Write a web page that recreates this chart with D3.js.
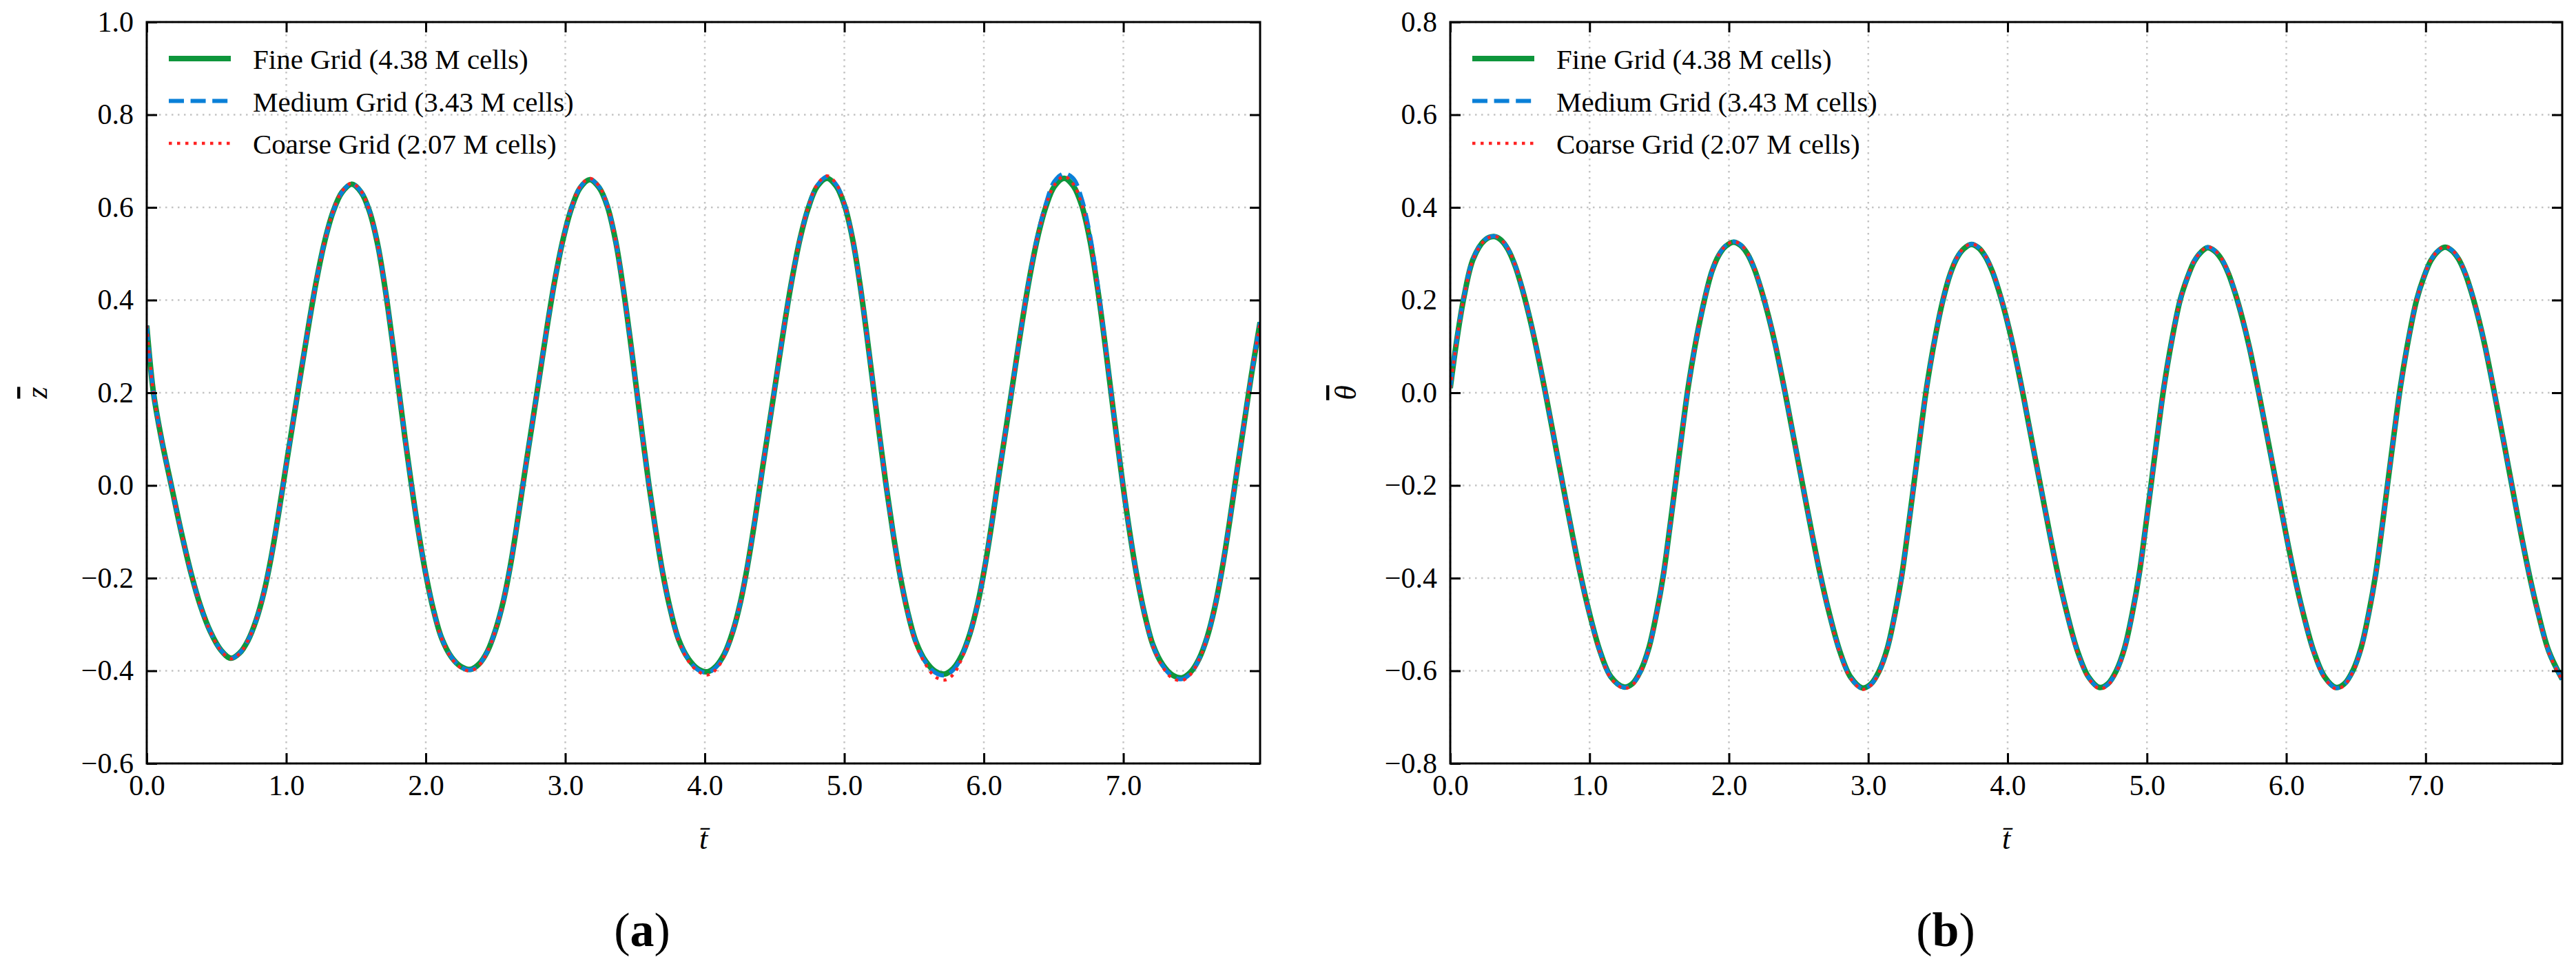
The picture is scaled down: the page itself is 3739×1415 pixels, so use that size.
<!DOCTYPE html>
<html>
<head>
<meta charset="utf-8">
<script src="https://cdn.jsdelivr.net/npm/d3@7"></script>
<style>
  body { margin: 0; background: #fff; }
  text { font-family: "Liberation Serif", "Times New Roman", serif; }
</style>
</head>
<body>
<div id="chart"></div>
<script>
// legend entries
const seriesNames = ["Fine Grid (4.38 M cells)", "Medium Grid (3.43 M cells)", "Coarse Grid (2.07 M cells)"]

const xTicks = [0, 1, 2, 3, 4, 5, 6, 7]
const zTicks = [-0.6, -0.4, -0.2, 0, 0.2, 0.4, 0.6, 0.8, 1.0]
const thetaTicks = [-0.8, -0.6, -0.4, -0.2, 0, 0.2, 0.4, 0.6, 0.8]

// (a) heave z-bar against t-bar
const tZ = [0, 0.025, 0.05, 0.107, 0.176, 0.247, 0.318, 0.385, 0.455, 0.533,
  0.603, 0.665, 0.725, 0.785, 0.842, 0.895, 0.948, 1.000, 1.053, 1.106, 1.160, 1.215, 1.274, 1.335, 1.398, 1.468,
  1.536, 1.596, 1.656, 1.711, 1.760, 1.806, 1.852, 1.898, 1.946, 1.998, 2.053, 2.113, 2.183, 2.253, 2.322,
  2.383, 2.442, 2.501, 2.558, 2.610, 2.662, 2.713, 2.766, 2.818, 2.871, 2.925, 2.984, 3.044, 3.106, 3.175,
  3.242, 3.302, 3.361, 3.415, 3.464, 3.509, 3.555, 3.600, 3.648, 3.699, 3.754, 3.813, 3.882, 3.951, 4.020,
  4.081, 4.141, 4.200, 4.256, 4.308, 4.361, 4.412, 4.465, 4.517, 4.570, 4.625, 4.683, 4.743, 4.805, 4.875,
  4.942, 5.002, 5.061, 5.115, 5.164, 5.209, 5.255, 5.300, 5.348, 5.399, 5.454, 5.513, 5.582, 5.651, 5.720,
  5.781, 5.841, 5.900, 5.956, 6.008, 6.061, 6.112, 6.165, 6.217, 6.270, 6.325, 6.383, 6.443, 6.505, 6.575,
  6.642, 6.702, 6.761, 6.815, 6.864, 6.909, 6.955, 7.000, 7.048, 7.099, 7.154, 7.213, 7.282, 7.351, 7.420,
  7.481, 7.541, 7.600, 7.656, 7.708, 7.761, 7.812, 7.865, 7.917, 7.980]

const zFine = [0.345, 0.262, 0.196, 0.098, 0.000, -0.100, -0.190, -0.260, -0.315, -0.356,
  -0.373, -0.362, -0.335, -0.290, -0.228, -0.150, -0.055, 0.045, 0.145, 0.245, 0.345, 0.440, 0.525, 0.590, 0.632, 0.650,
  0.633, 0.592, 0.519, 0.420, 0.313, 0.207, 0.100, 0.000, -0.097, -0.188, -0.266, -0.329, -0.370, -0.391, -0.397,
  -0.385, -0.358, -0.311, -0.247, -0.167, -0.068, 0.035, 0.139, 0.241, 0.345, 0.443, 0.531, 0.598, 0.642, 0.660,
  0.643, 0.602, 0.527, 0.426, 0.318, 0.211, 0.102, 0.000, -0.097, -0.190, -0.269, -0.333, -0.374, -0.396, -0.402,
  -0.390, -0.363, -0.316, -0.251, -0.170, -0.071, 0.034, 0.138, 0.241, 0.346, 0.445, 0.533, 0.600, 0.645, 0.663,
  0.646, 0.604, 0.529, 0.428, 0.318, 0.210, 0.101, -0.001, -0.100, -0.193, -0.273, -0.337, -0.379, -0.401, -0.407,
  -0.395, -0.367, -0.320, -0.255, -0.174, -0.074, 0.031, 0.135, 0.239, 0.344, 0.444, 0.532, 0.600, 0.645, 0.663,
  0.646, 0.604, 0.528, 0.426, 0.316, 0.207, 0.097, -0.006, -0.106, -0.199, -0.280, -0.345, -0.387, -0.409, -0.415,
  -0.403, -0.375, -0.328, -0.262, -0.180, -0.079, 0.027, 0.133, 0.237, 0.352]

const zMedium = [0.345, 0.262, 0.196, 0.098, 0.000, -0.100, -0.190, -0.260, -0.315, -0.356,
  -0.373, -0.362, -0.335, -0.290, -0.228, -0.150, -0.055, 0.045, 0.145, 0.245, 0.345, 0.440, 0.525, 0.590, 0.632, 0.651,
  0.634, 0.593, 0.519, 0.420, 0.313, 0.207, 0.100, 0.000, -0.097, -0.188, -0.266, -0.329, -0.370, -0.392, -0.398,
  -0.386, -0.358, -0.311, -0.247, -0.167, -0.068, 0.035, 0.139, 0.241, 0.345, 0.443, 0.531, 0.599, 0.643, 0.661,
  0.644, 0.603, 0.527, 0.426, 0.318, 0.211, 0.102, 0.000, -0.097, -0.190, -0.269, -0.333, -0.375, -0.398, -0.404,
  -0.392, -0.364, -0.316, -0.251, -0.170, -0.071, 0.034, 0.138, 0.241, 0.346, 0.445, 0.533, 0.601, 0.647, 0.666,
  0.649, 0.605, 0.529, 0.428, 0.318, 0.210, 0.101, -0.001, -0.100, -0.193, -0.273, -0.338, -0.381, -0.404, -0.410,
  -0.398, -0.369, -0.320, -0.255, -0.174, -0.074, 0.031, 0.135, 0.239, 0.344, 0.446, 0.536, 0.606, 0.656, 0.673,
  0.662, 0.618, 0.540, 0.434, 0.320, 0.208, 0.097, -0.006, -0.106, -0.199, -0.280, -0.346, -0.389, -0.412, -0.418,
  -0.406, -0.376, -0.328, -0.262, -0.180, -0.079, 0.027, 0.133, 0.237, 0.352]

const zCoarse = [0.345, 0.262, 0.196, 0.098, 0.000, -0.100, -0.190, -0.260, -0.315, -0.357,
  -0.374, -0.363, -0.335, -0.290, -0.228, -0.150, -0.055, 0.045, 0.145, 0.245, 0.345, 0.440, 0.525, 0.591, 0.634, 0.652,
  0.635, 0.593, 0.519, 0.420, 0.313, 0.207, 0.100, 0.000, -0.097, -0.188, -0.266, -0.330, -0.372, -0.394, -0.400,
  -0.388, -0.359, -0.311, -0.247, -0.167, -0.068, 0.035, 0.139, 0.241, 0.345, 0.443, 0.532, 0.600, 0.645, 0.663,
  0.646, 0.604, 0.528, 0.426, 0.318, 0.211, 0.102, 0.000, -0.097, -0.190, -0.270, -0.336, -0.379, -0.401, -0.409,
  -0.397, -0.367, -0.317, -0.251, -0.170, -0.071, 0.034, 0.138, 0.241, 0.346, 0.445, 0.534, 0.602, 0.649, 0.668,
  0.651, 0.606, 0.530, 0.428, 0.318, 0.210, 0.101, -0.001, -0.101, -0.195, -0.277, -0.343, -0.386, -0.413, -0.420,
  -0.408, -0.374, -0.323, -0.256, -0.174, -0.074, 0.031, 0.135, 0.239, 0.344, 0.445, 0.533, 0.602, 0.648, 0.667,
  0.650, 0.606, 0.529, 0.426, 0.316, 0.207, 0.097, -0.006, -0.107, -0.200, -0.282, -0.348, -0.392, -0.416, -0.421,
  -0.408, -0.377, -0.329, -0.262, -0.180, -0.079, 0.027, 0.133, 0.237, 0.351]

// (b) pitch theta-bar against t-bar
const tTheta = [0, 0.05, 0.10, 0.165, 0.247, 0.313,
  0.363, 0.413, 0.463, 0.513, 0.563, 0.613, 0.688, 0.753, 0.815, 0.877, 0.935, 0.995, 1.075, 1.153, 1.246,
  1.306, 1.366, 1.426, 1.481, 1.531, 1.576, 1.621, 1.666, 1.709, 1.766, 1.824, 1.878, 1.926, 1.976, 2.034,
  2.084, 2.134, 2.184, 2.234, 2.284, 2.334, 2.409, 2.474, 2.536, 2.598, 2.656, 2.716, 2.796, 2.874, 2.957,
  3.017, 3.077, 3.137, 3.192, 3.242, 3.287, 3.332, 3.377, 3.420, 3.477, 3.535, 3.589, 3.637, 3.687, 3.740,
  3.790, 3.840, 3.890, 3.940, 3.990, 4.040, 4.115, 4.180, 4.242, 4.304, 4.362, 4.422, 4.502, 4.580, 4.660,
  4.720, 4.780, 4.840, 4.895, 4.945, 4.990, 5.035, 5.080, 5.123, 5.180, 5.238, 5.292, 5.340, 5.390, 5.435,
  5.485, 5.535, 5.585, 5.635, 5.685, 5.735, 5.810, 5.875, 5.937, 5.999, 6.057, 6.117, 6.197, 6.275, 6.357,
  6.417, 6.477, 6.537, 6.592, 6.642, 6.687, 6.732, 6.777, 6.820, 6.877, 6.935, 6.989, 7.037, 7.087, 7.139,
  7.187, 7.235, 7.283, 7.331, 7.379, 7.427, 7.500, 7.564, 7.625, 7.686, 7.744, 7.804, 7.884, 7.980]

const thetaFine = [0.010, 0.120, 0.209, 0.289, 0.329, 0.337,
  0.330, 0.310, 0.276, 0.228, 0.170, 0.104, -0.008, -0.111, -0.210, -0.307, -0.393, -0.471, -0.558, -0.613, -0.635,
  -0.628, -0.600, -0.550, -0.475, -0.390, -0.290, -0.185, -0.080, 0.015, 0.116, 0.200, 0.262, 0.296, 0.316, 0.325,
  0.318, 0.299, 0.266, 0.220, 0.165, 0.102, -0.009, -0.112, -0.210, -0.307, -0.393, -0.471, -0.558, -0.614, -0.637,
  -0.629, -0.601, -0.551, -0.476, -0.391, -0.291, -0.186, -0.081, 0.014, 0.115, 0.199, 0.257, 0.291, 0.311, 0.320,
  0.313, 0.294, 0.262, 0.217, 0.163, 0.100, -0.010, -0.113, -0.210, -0.307, -0.393, -0.471, -0.558, -0.613, -0.636,
  -0.628, -0.600, -0.550, -0.475, -0.390, -0.290, -0.185, -0.080, 0.015, 0.116, 0.200, 0.250, 0.284, 0.304, 0.313,
  0.306, 0.288, 0.257, 0.213, 0.160, 0.098, -0.012, -0.113, -0.210, -0.307, -0.393, -0.471, -0.558, -0.613, -0.636,
  -0.628, -0.600, -0.550, -0.475, -0.390, -0.290, -0.185, -0.080, 0.015, 0.116, 0.200, 0.251, 0.285, 0.305, 0.314,
  0.307, 0.289, 0.258, 0.214, 0.161, 0.099, -0.011, -0.112, -0.210, -0.307, -0.393, -0.471, -0.558, -0.618]

const thetaMedium = [0.011, 0.121, 0.210, 0.290, 0.330, 0.338,
  0.331, 0.311, 0.277, 0.229, 0.171, 0.104, -0.008, -0.111, -0.210, -0.307, -0.394, -0.472, -0.559, -0.614, -0.636,
  -0.629, -0.601, -0.551, -0.476, -0.391, -0.291, -0.186, -0.081, 0.014, 0.116, 0.200, 0.262, 0.297, 0.317, 0.326,
  0.319, 0.300, 0.267, 0.221, 0.166, 0.102, -0.009, -0.112, -0.210, -0.307, -0.394, -0.472, -0.559, -0.615, -0.638,
  -0.630, -0.602, -0.552, -0.477, -0.392, -0.292, -0.187, -0.082, 0.013, 0.115, 0.199, 0.257, 0.292, 0.312, 0.321,
  0.314, 0.295, 0.263, 0.218, 0.163, 0.100, -0.010, -0.113, -0.210, -0.307, -0.394, -0.472, -0.559, -0.614, -0.637,
  -0.629, -0.601, -0.551, -0.476, -0.391, -0.291, -0.186, -0.081, 0.014, 0.116, 0.200, 0.250, 0.285, 0.305, 0.314,
  0.307, 0.289, 0.258, 0.214, 0.160, 0.098, -0.012, -0.113, -0.210, -0.307, -0.394, -0.472, -0.559, -0.614, -0.637,
  -0.629, -0.601, -0.551, -0.476, -0.391, -0.291, -0.186, -0.081, 0.014, 0.116, 0.200, 0.251, 0.286, 0.306, 0.315,
  0.308, 0.290, 0.259, 0.215, 0.161, 0.099, -0.011, -0.112, -0.210, -0.307, -0.394, -0.472, -0.559, -0.619]

const thetaCoarse = [0.010, 0.119, 0.208, 0.288, 0.329, 0.338,
  0.331, 0.312, 0.278, 0.230, 0.172, 0.106, -0.006, -0.110, -0.209, -0.307, -0.394, -0.473, -0.561, -0.616, -0.638,
  -0.631, -0.603, -0.553, -0.478, -0.393, -0.293, -0.188, -0.083, 0.012, 0.114, 0.199, 0.262, 0.297, 0.317, 0.326,
  0.320, 0.301, 0.268, 0.222, 0.167, 0.104, -0.007, -0.111, -0.209, -0.307, -0.394, -0.473, -0.561, -0.617, -0.640,
  -0.632, -0.604, -0.554, -0.479, -0.394, -0.294, -0.189, -0.084, 0.011, 0.113, 0.198, 0.257, 0.292, 0.313, 0.321,
  0.315, 0.296, 0.264, 0.219, 0.165, 0.102, -0.008, -0.112, -0.209, -0.307, -0.394, -0.473, -0.561, -0.616, -0.639,
  -0.631, -0.603, -0.553, -0.478, -0.393, -0.293, -0.188, -0.083, 0.012, 0.114, 0.199, 0.250, 0.285, 0.305, 0.315,
  0.308, 0.290, 0.259, 0.215, 0.162, 0.100, -0.010, -0.112, -0.209, -0.307, -0.394, -0.473, -0.561, -0.616, -0.639,
  -0.631, -0.603, -0.553, -0.478, -0.393, -0.293, -0.188, -0.083, 0.012, 0.114, 0.199, 0.251, 0.286, 0.306, 0.316,
  0.309, 0.291, 0.260, 0.216, 0.163, 0.101, -0.009, -0.111, -0.209, -0.307, -0.394, -0.473, -0.561, -0.621]

const width = 3739
const height = 1415

const lineStyles = [
  { color: "#0e963c", width: 8, dash: null },
  { color: "#0a80d8", width: 6, dash: "22,9.6" },
  { color: "#ff2222", width: 4.5, dash: "4.5,7.5" }
]

const svg = d3.select("#chart")
  .append("svg")
  .attr("width", width)
  .attr("height", height)
  .style("background-color", "#fff")

const fmt = d3.format(".1f")

function panel(p) {
  const x = d3.scaleLinear().domain([0, 7.98]).range([p.left, p.right])
  const y = d3.scaleLinear().domain(p.yDomain).range([p.bottom, p.top])

  const g = svg.append("g")

  // dotted grid
  const grid = g.append("g")
    .attr("stroke", "#c4c4c4")
    .attr("stroke-width", 2.5)
    .attr("stroke-dasharray", "2.5,6.5")
  grid.selectAll(".gx")
    .data(xTicks)
    .join("line")
    .attr("x1", d => x(d)).attr("x2", d => x(d))
    .attr("y1", p.top).attr("y2", p.bottom)
  grid.selectAll(".gy")
    .data(p.yTicks)
    .join("line")
    .attr("x1", p.left).attr("x2", p.right)
    .attr("y1", d => y(d)).attr("y2", d => y(d))

  // curves
  const clipId = "clip" + p.tag
  g.append("clipPath").attr("id", clipId)
    .append("rect")
    .attr("x", p.left).attr("y", p.top)
    .attr("width", p.right - p.left).attr("height", p.bottom - p.top)

  const line = d3.line()
    .x(d => x(d[0]))
    .y(d => y(d[1]))
    .curve(d3.curveCatmullRom.alpha(0.5))

  g.append("g")
    .attr("clip-path", `url(#${clipId})`)
    .selectAll("path")
    .data(p.series)
    .join("path")
    .attr("fill", "none")
    .attr("stroke", (d, i) => lineStyles[i].color)
    .attr("stroke-width", (d, i) => lineStyles[i].width)
    .attr("stroke-dasharray", (d, i) => lineStyles[i].dash)
    .attr("d", d => line(d.map((v, i) => [p.t[i], v])))

  // axes, ticks pointing inwards
  const axisStyle = sel => sel
    .attr("font-size", 42)
    .attr("font-family", '"Liberation Serif", "Times New Roman", serif')
    .call(s => s.select(".domain").remove())
    .call(s => s.selectAll(".tick line").attr("stroke-width", 3))
    .call(s => s.selectAll(".tick text").attr("fill", "#000"))

  g.append("g")
    .attr("transform", `translate(0,${p.bottom})`)
    .call(d3.axisBottom(x).tickValues(xTicks).tickFormat(fmt).tickSize(-15).tickPadding(16))
    .call(axisStyle)
  g.append("g")
    .attr("transform", `translate(0,${p.top})`)
    .call(d3.axisTop(x).tickValues(xTicks).tickFormat("").tickSize(-15))
    .call(axisStyle)
  g.append("g")
    .attr("transform", `translate(${p.left},0)`)
    .call(d3.axisLeft(y).tickValues(p.yTicks).tickFormat(fmt).tickSize(-15).tickPadding(19))
    .call(axisStyle)
  g.append("g")
    .attr("transform", `translate(${p.right},0)`)
    .call(d3.axisRight(y).tickValues(p.yTicks).tickFormat("").tickSize(-15))
    .call(axisStyle)

  // frame
  g.append("rect")
    .attr("x", p.left).attr("y", p.top)
    .attr("width", p.right - p.left).attr("height", p.bottom - p.top)
    .attr("fill", "none")
    .attr("stroke", "#000")
    .attr("stroke-width", 3)

  // legend
  const leg = g.append("g")
    .selectAll("g")
    .data(seriesNames)
    .join("g")
    .attr("transform", (d, i) => `translate(${p.left + 32},${p.top + 53 + i * 61.5})`)
  leg.append("line")
    .attr("x1", 0).attr("x2", 90)
    .attr("stroke", (d, i) => lineStyles[i].color)
    .attr("stroke-width", (d, i) => lineStyles[i].width)
    .attr("stroke-dasharray", (d, i) => lineStyles[i].dash)
  leg.append("text")
    .attr("x", 122)
    .attr("y", 15)
    .attr("font-size", 41)
    .text(d => d)

  // axis titles (overlined symbols)
  g.append("text")
    .attr("transform", `translate(${p.yLabelX},${(p.top + p.bottom) / 2}) rotate(-90)`)
    .attr("text-anchor", "middle")
    .attr("font-size", 44)
    .attr("font-style", "italic")
    .style("text-decoration", "overline")
    .text(p.yLabel)
  g.append("text")
    .attr("x", (p.left + p.right) / 2)
    .attr("y", 1232)
    .attr("text-anchor", "middle")
    .attr("font-size", 44)
    .attr("font-style", "italic")
    .text("t\u0304")

  // panel tag, bold letter in plain brackets
  const tag = g.append("text")
    .attr("x", p.tagX)
    .attr("y", 1373)
    .attr("text-anchor", "middle")
    .attr("font-size", 70)
  tag.append("tspan").text("(")
  tag.append("tspan").attr("font-weight", "bold").text(p.tag)
  tag.append("tspan").text(")")
}

panel({
  left: 213, right: 1829, top: 32, bottom: 1108,
  t: tZ, series: [zFine, zMedium, zCoarse],
  yDomain: [-0.6, 1.0], yTicks: zTicks,
  yLabel: "z", yLabelX: 68, tag: "a", tagX: 932
})

panel({
  left: 2105, right: 3719, top: 32, bottom: 1108,
  t: tTheta, series: [thetaFine, thetaMedium, thetaCoarse],
  yDomain: [-0.8, 0.8], yTicks: thetaTicks,
  yLabel: "\u03b8", yLabelX: 1968, tag: "b", tagX: 2824
})
</script>
</body>
</html>
